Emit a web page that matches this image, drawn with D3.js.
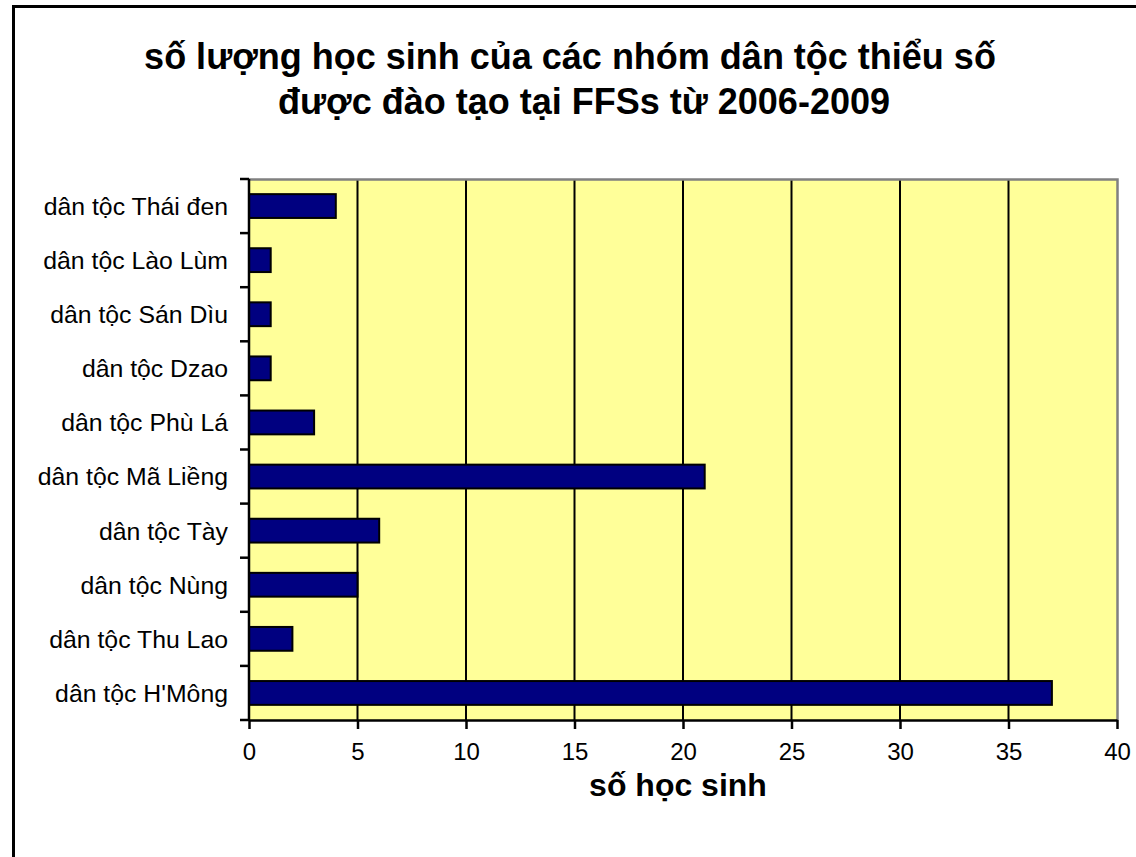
<!DOCTYPE html>
<meta charset="utf-8">
<style>
    body, html {
        margin: 0;
        padding: 0;
        background: #fff;
        overflow: hidden;
    }
    text { font-family: "Liberation Sans", Arial, sans-serif; }
</style>
<svg width="1136" height="857"></svg>
<script src="https://d3js.org/d3.v7.min.js"></script>
<script>
    // categories listed bottom to top, as in the spreadsheet
    var categories = ["dân tộc H'Mông", "dân tộc Thu Lao", "dân tộc Nùng", "dân tộc Tày", "dân tộc Mã Liềng",
        "dân tộc Phù Lá", "dân tộc Dzao", "dân tộc Sán Dìu", "dân tộc Lào Lùm", "dân tộc Thái đen"];
    var students = [37, 2, 5, 6, 21, 3, 1, 1, 1, 4];
    var xTicks = [0, 5, 10, 15, 20, 25, 30, 35, 40];
    var titleLines = ["số lượng học sinh của các nhóm dân tộc thiểu số", "được đào tạo tại FFSs từ 2006-2009"];
    var xTitle = "số học sinh";

    var svg = d3.select("svg");
    var plotL = 249, plotR = 1117, plotT = 179, plotB = 720;

    // outer chart border (runs off the right and bottom)
    svg.append("rect")
        .attr("x", 13.5).attr("y", 6.5)
        .attr("width", 1200).attr("height", 1000)
        .attr("fill", "#fff").attr("stroke", "#000").attr("stroke-width", 3);

    var x = d3.scaleLinear().domain([0, 40]).range([plotL, plotR]);
    var y = d3.scaleBand().domain(categories.slice().reverse()).range([plotT, plotB]).paddingInner(0.56).paddingOuter(0.28);

    svg.append("rect")
        .attr("x", plotL).attr("y", plotT)
        .attr("width", plotR - plotL).attr("height", plotB - plotT)
        .attr("fill", "#ffff99");

    // grid lines
    svg.append("g").selectAll("line")
        .data(xTicks.slice(1, -1))
        .enter().append("line")
        .attr("x1", d => x(d)).attr("x2", d => x(d))
        .attr("y1", plotT).attr("y2", plotB)
        .attr("stroke", "#000").attr("stroke-width", 2);

    // plot border top/right in grey
    svg.append("path")
        .attr("d", "M" + plotL + "," + (plotT + 0.5) + "H" + (plotR + 0.5) + "V" + plotB)
        .attr("fill", "none").attr("stroke", "#808080").attr("stroke-width", 2.5);

    // bars
    svg.append("g").selectAll("rect")
        .data(categories)
        .enter().append("rect")
        .attr("x", x(0))
        .attr("y", d => y(d))
        .attr("width", (d, i) => x(students[i]) - x(0))
        .attr("height", y.bandwidth())
        .attr("fill", "#000080")
        .attr("stroke", "#000").attr("stroke-width", 2);

    // x axis
    var xAxis = svg.append("g")
        .attr("transform", "translate(0," + plotB + ")")
        .call(d3.axisBottom(x).tickValues(xTicks).tickSize(9).tickSizeOuter(0).tickPadding(14));
    xAxis.select(".domain").attr("stroke-width", 2.5);
    xAxis.selectAll(".tick line").attr("stroke-width", 2.5);
    xAxis.selectAll("text").attr("font-size", 24).attr("fill", "#000")
        .style("font-family", "'Liberation Sans', Arial, sans-serif");

    // y axis: ticks sit on the category boundaries
    var bounds = d3.range(categories.length + 1).map(i => plotT + i * (plotB - plotT) / categories.length);
    svg.append("line")
        .attr("x1", plotL).attr("x2", plotL).attr("y1", plotT).attr("y2", plotB + 1)
        .attr("stroke", "#000").attr("stroke-width", 2.5);
    svg.append("g").selectAll("line")
        .data(bounds)
        .enter().append("line")
        .attr("x1", plotL - 9).attr("x2", plotL)
        .attr("y1", d => d).attr("y2", d => d)
        .attr("stroke", "#000").attr("stroke-width", 2.5);
    svg.append("g").selectAll("text")
        .data(categories)
        .enter().append("text")
        .attr("x", 228)
        .attr("y", d => y(d) + y.bandwidth() / 2)
        .attr("dy", "0.36em")
        .attr("text-anchor", "end")
        .attr("font-size", 24.8)
        .text(d => d);

    // titles
    var titleX = [570, 584];
    svg.append("g").selectAll("text")
        .data(titleLines)
        .enter().append("text")
        .attr("x", (d, i) => titleX[i])
        .attr("y", (d, i) => 69 + i * 45)
        .attr("text-anchor", "middle")
        .attr("font-size", 36)
        .attr("font-weight", "bold")
        .text(d => d);

    svg.append("text")
        .attr("x", (plotL + plotR) / 2 - 5)
        .attr("y", 796)
        .attr("text-anchor", "middle")
        .attr("font-size", 32)
        .attr("font-weight", "bold")
        .text(xTitle);
</script>
